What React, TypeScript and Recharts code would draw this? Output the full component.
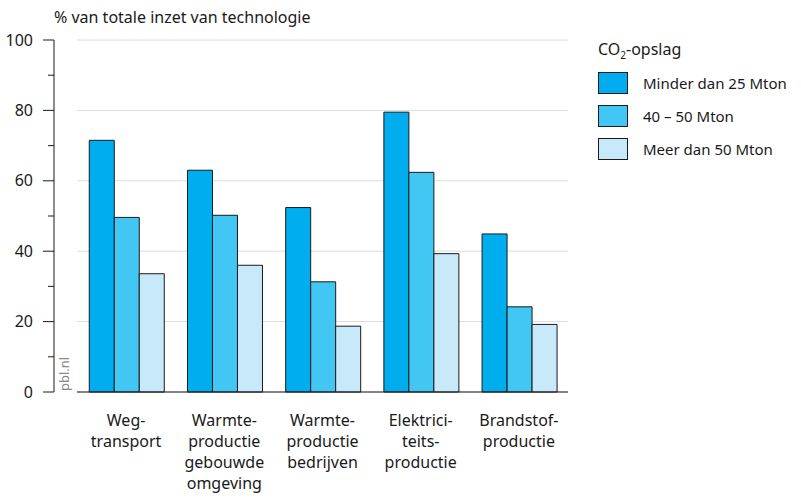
import { Bar, BarChart, CartesianGrid, Legend, XAxis, YAxis } from 'recharts';

const categories = [
    'Weg-\ntransport',
    'Warmte-\nproductie\ngebouwde\nomgeving',
    'Warmte-\nproductie\nbedrijven',
    'Elektrici-\nteits-\nproductie',
    'Brandstof-\nproductie'
];
const minderDan25 = [71.5, 63.0, 52.4, 79.5, 44.9];
const tussen40en50 = [49.6, 50.2, 31.3, 62.4, 24.2];
const meerDan50 = [33.6, 36.0, 18.7, 39.3, 19.2];
const yTicks = [0, 20, 40, 60, 80, 100];

const seriesNames = ['Minder dan 25 Mton', '40 – 50 Mton', 'Meer dan 50 Mton'];
const seriesColors = ['#00aeef', '#42c7f4', '#c8e9fa'];

const data = categories.map((name, i) => ({
    name,
    a: minderDan25[i],
    b: tussen40en50[i],
    c: meerDan50[i]
}));

const FONT = '"Noto Sans", sans-serif';
const TEXT = '#1a1a1a';
const PLOT_H = 352;

const YTick = (props: any) => {
    const { x, y, payload } = props;
    const axisX = x - 23;
    const v = payload.value;
    return (
        <g>
            <text x={x - 44} y={y} dy='0.35em' textAnchor='end' fontSize={16} fill={TEXT} fontFamily={FONT}>
                {v}
            </text>
            <line x1={axisX - 11} x2={axisX} y1={y} y2={y} stroke={TEXT} />
            {v < 100 && (
                <line x1={axisX - 6} x2={axisX} y1={y - PLOT_H / 10} y2={y - PLOT_H / 10} stroke={TEXT} />
            )}
            {v === 0 && (
                <>
                    <line x1={axisX} x2={axisX} y1={y} y2={y - PLOT_H} stroke={TEXT} />
                    <text
                        transform={`translate(${axisX + 15},${y - 1}) rotate(-90)`}
                        fontSize={13}
                        fill='#8a8a8a'
                        fontFamily={FONT}
                    >
                        pbl.nl
                    </text>
                </>
            )}
        </g>
    );
};

const XTick = (props: any) => {
    const { x, y, payload } = props;
    const lines = String(payload.value).split('\n');
    return (
        <text textAnchor='middle' fontSize={16} fill={TEXT} fontFamily={FONT}>
            {lines.map((l, i) => (
                <tspan key={i} x={x} y={y + 34 + i * 21}>
                    {l}
                </tspan>
            ))}
        </text>
    );
};

const LegendContent = () => (
    <div style={{ fontFamily: FONT, fontSize: 15, color: TEXT }}>
        <div style={{ marginBottom: 0, lineHeight: '22px', fontSize: 16 }}>
            CO<sub style={{ fontSize: 10 }}>2</sub>-opslag
        </div>
        {seriesNames.map((n, i) => (
            <div key={n} style={{ display: 'flex', alignItems: 'center', height: 33 }}>
                <span
                    style={{
                        width: 30,
                        height: 22,
                        boxSizing: 'border-box',
                        border: '1px solid #1a1a1a',
                        backgroundColor: seriesColors[i],
                        marginRight: 15
                    }}
                />
                <span>{n}</span>
            </div>
        ))}
    </div>
);

export default function App() {
    return (
        <div style={{ position: 'absolute', left: 0, top: 0, width: 801, height: 498 }}>
            <div
                style={{
                    position: 'absolute',
                    left: 54,
                    top: 9,
                    fontFamily: FONT,
                    fontSize: 16,
                    lineHeight: '16px',
                    color: TEXT,
                    whiteSpace: 'nowrap'
                }}
            >
                % van totale inzet van technologie
            </div>
            <BarChart
                width={801}
                height={498}
                data={data}
                margin={{ top: 40, right: 233, bottom: 0, left: 0 }}
                barCategoryGap='12.5%'
                barGap={0}
            >
                <CartesianGrid vertical={false} stroke='#dcdcdc' />
                <XAxis
                    dataKey='name'
                    height={106}
                    axisLine={{ stroke: TEXT }}
                    tickLine={false}
                    tickSize={0}
                    tickMargin={0}
                    tick={<XTick />}
                    interval={0}
                />
                <YAxis
                    width={77}
                    domain={[0, 100]}
                    ticks={yTicks}
                    axisLine={false}
                    tickLine={false}
                    tickSize={0}
                    tickMargin={0}
                    tick={<YTick />}
                    interval={0}
                />
                <Legend
                    layout='vertical'
                    align='center'
                    verticalAlign='middle'
                    content={<LegendContent />}
                    wrapperStyle={{ position: 'absolute', left: 598, top: 38, width: 200 }}
                />
                <Bar dataKey='a' name={seriesNames[0]} fill={seriesColors[0]} stroke={TEXT} isAnimationActive={false} />
                <Bar dataKey='b' name={seriesNames[1]} fill={seriesColors[1]} stroke={TEXT} isAnimationActive={false} />
                <Bar dataKey='c' name={seriesNames[2]} fill={seriesColors[2]} stroke={TEXT} isAnimationActive={false} />
            </BarChart>
        </div>
    );
}
